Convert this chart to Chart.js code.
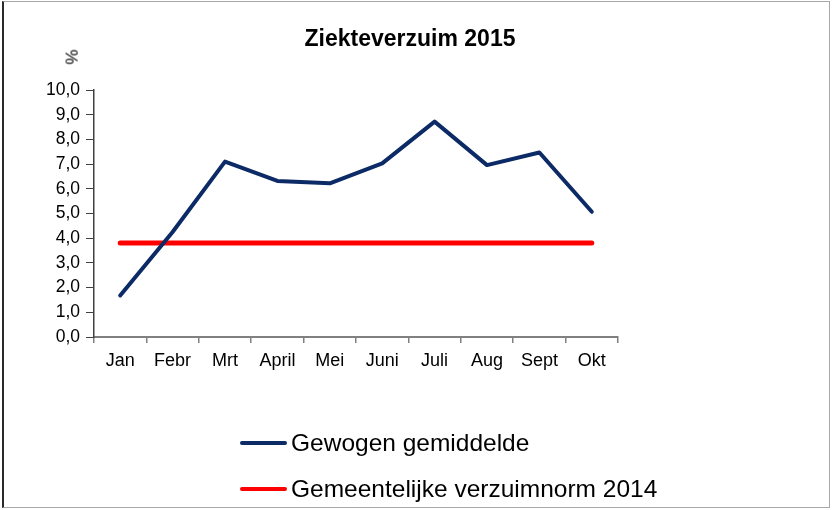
<!DOCTYPE html>
<html>
<head>
<meta charset="utf-8">
<script src="https://cdn.jsdelivr.net/npm/chart.js@4/dist/chart.umd.min.js"></script>
<style>
    html, body { margin: 0; padding: 0; background: #fff; }
    #wrap { position: relative; width: 832px; height: 510px; overflow: hidden; font-family: Arial, "Liberation Sans", sans-serif; }
    #frame { position: absolute; left: 2px; top: 1px; width: 828px; height: 507px; border: 1px solid #a8a8a8; border-left: 2px solid #2a2a2a; box-sizing: border-box; }
    #chart { position: absolute; left: 0; top: 0; }
    #unit { position: absolute; left: 65px; top: 47px; font-size: 17px; color: #000; transform: rotate(-90deg); transform-origin: center; }
    .legend-row { position: absolute; left: 240px; display: flex; align-items: center; font-size: 24.5px; color: #000; white-space: nowrap; }
    .legend-row .swatch { display: inline-block; width: 47px; height: 4px; border-radius: 2px; margin-right: 4px; }
</style>
</head>
<body>
<div id="wrap">
    <div id="frame"></div>
    <canvas id="chart" width="832" height="510"></canvas>
    <div id="unit">%</div>
    <div id="legend"></div>
</div>
<script>
const chartTitle = 'Ziekteverzuim 2015';
const months = ['Jan', 'Febr', 'Mrt', 'April', 'Mei', 'Juni', 'Juli', 'Aug', 'Sept', 'Okt'];
const gewogenGemiddelde = [1.68, 4.25, 7.1, 6.32, 6.22, 7.03, 8.72, 6.96, 7.47, 5.07];
const verzuimnorm2014 = [3.81, 3.81, 3.81, 3.81, 3.81, 3.81, 3.81, 3.81, 3.81, 3.81];
const seriesNames = ['Gewogen gemiddelde', 'Gemeentelijke verzuimnorm 2014'];
const seriesColors = ['#0c2a66', '#ff0000'];

const fmt = v => v.toFixed(1).replace('.', ',');

const chart = new Chart(document.getElementById('chart'), {
    type: 'line',
    data: {
        labels: months,
        datasets: [
            { label: seriesNames[0], data: gewogenGemiddelde, borderColor: seriesColors[0], borderWidth: 4, pointRadius: 0, borderJoinStyle: 'round', borderCapStyle: 'round', tension: 0 },
            { label: seriesNames[1], data: verzuimnorm2014, borderColor: seriesColors[1], borderWidth: 5, pointRadius: 0, borderCapStyle: 'round', tension: 0 }
        ]
    },
    options: {
        responsive: false,
        animation: false,
        events: [],
        // rechts 12px extra zodat de titel iets links van het midden staat
        layout: { padding: { left: 0, right: 12, top: 0, bottom: 123 } },
        plugins: {
            legend: { display: false },
            tooltip: { enabled: false },
            title: {
                display: true,
                text: chartTitle,
                color: '#000',
                font: { family: 'Arial, "Liberation Sans", sans-serif', size: 23, weight: 'bold' },
                padding: { top: 26, bottom: 36.4 }
            }
        },
        scales: {
            x: {
                offset: true,
                grid: { offset: true, drawOnChartArea: false, tickLength: 6, color: '#808080', lineWidth: 1.5 },
                border: { color: '#808080', width: 2 },
                ticks: { color: '#000', padding: 7, font: { family: 'Arial, "Liberation Sans", sans-serif', size: 18 }, maxRotation: 0 },
                afterFit: s => { s.height = 50; }
            },
            y: {
                min: 0,
                max: 10,
                ticks: { stepSize: 1, color: '#000', padding: 6, callback: v => fmt(v), font: { family: 'Arial, "Liberation Sans", sans-serif', size: 17.5 } },
                grid: { drawOnChartArea: false, tickLength: 8, color: '#404040' },
                border: { color: '#404040', width: 1.5 },
                afterFit: s => { s.width = 94; }
            },
            spacer: {
                position: 'right',
                display: true,
                grid: { display: false },
                border: { display: false },
                ticks: { display: false },
                afterFit: s => { s.width = 202; }
            }
        }
    }
});

// Legenda onder de grafiek
const legend = document.getElementById('legend');
chart.data.datasets.forEach((ds, i) => {
    const row = document.createElement('div');
    row.className = 'legend-row';
    row.style.top = (429 + i * 46) + 'px';
    const sw = document.createElement('span');
    sw.className = 'swatch';
    sw.style.background = ds.borderColor;
    const txt = document.createElement('span');
    txt.textContent = ds.label;
    row.appendChild(sw);
    row.appendChild(txt);
    legend.appendChild(row);
});
</script>
</body>
</html>
